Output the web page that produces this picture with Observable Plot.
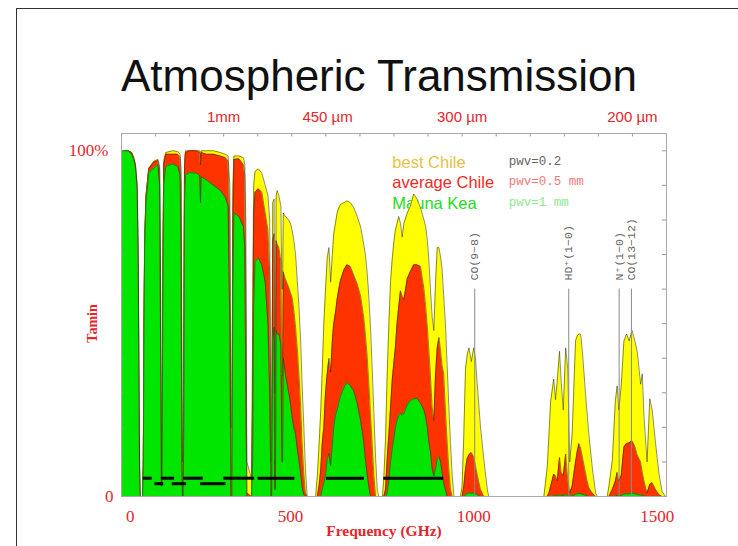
<!DOCTYPE html>
<html><head><meta charset="utf-8">
<script src="https://cdn.jsdelivr.net/npm/d3@7"></script>
<script src="https://cdn.jsdelivr.net/npm/@observablehq/plot@0.6"></script>
<style>
body{margin:0;background:#fff;}
#page{position:relative;width:738px;height:546px;overflow:hidden;background:#fff;}
#border{position:absolute;left:16px;top:8px;width:800px;height:600px;border:1.5px solid #333;box-sizing:border-box;}
#title{position:absolute;left:0;width:758px;top:54px;line-height:44px;text-align:center;font-family:"Liberation Sans",Arial,sans-serif;font-size:44px;color:#111;white-space:nowrap;}
#chart{position:absolute;left:0;top:100px;}
</style></head>
<body><div id="page"><div id="border"></div><div id="title">Atmospheric Transmission</div><div id="chart"></div></div>
<script>
// Frequency grid (GHz) and transmission
const freqGHz = [
  0,20,30,36,41,46,49,51,53,55,62,
  64,66,68,72,80,95,107,112,115,117,119,121,124,
  130,150,165,172,175,177,179,181,183,185,188,
  200,220,230,232,234,250,270,290,305,313,318,321,324,327,330,
  345,358,362,365,368,382,385,388,392,402,412,422,430,435,439,441,
  444,448,450,452,454,457,462,468,471,473,475,481,491,496,501,506,511,516,521,526,530,535,540,545,
  570,575,580,585,589,594,599,604,609,614,619,623,628,633,638,643,653,662,672,682,692,702,711,716,721,726,731,736,741,746,751,755,
  766,770,775,780,785,790,795,800,804,809,814,819,824,829,839,848,858,868,878,888,893,898,902,907,912,917,922,927,932,937,941,946,951,956,961,966,971,976,
  995,1000,1005,1010,1015,1020,1027,1034,1039,1044,1054,1064,1074,1078,
  1240,1250,1255,1260,1269,1274,1279,1286,1291,1297,1304,1310,1316,1323,1333,1338,1343,1348,1353,1362,1367,1372,1382,1392,1397,
  1426,1431,1441,1450,1455,1460,1467,1475,1483,1490,1499,1507,1514,1524,1529,1534,1543,1551,1558,1568,1578,1587,1597
];
const bestChile = [
  1,1,0.995,0.98,0.96,0.9,0.7,0.4,0.1,0,0,
  0.1,0.5,0.75,0.87,0.95,0.97,0.975,0.955,0.6,0.05,0.05,0.6,0.97,
  0.995,1,0.998,0.99,0.95,0.5,0.1,0.1,0.6,0.97,1,
  1,1,1,0.98,1,1,1,0.995,0.99,0.985,0.9,0.2,0.2,0.9,0.985,
  0.985,0.98,0.96,0.8,0.1,0.05,0.5,0.9,0.94,0.948,0.935,0.9,0.87,0.8,0.1,0.1,
  0.85,0.86,0.3,0.3,0.87,0.885,0.87,0.84,0.6,0.6,0.82,0.81,0.8,0.79,0.77,0.74,0.7,0.625,0.55,0.45,0.33,0.21,0.08,0,
  0,0.06,0.15,0.25,0.355,0.5,0.6,0.69,0.72,0.62,0.7,0.76,0.79,0.82,0.835,0.845,0.85,0.855,0.85,0.835,0.81,0.78,0.73,0.7,0.65,0.58,0.49,0.37,0.24,0.11,0.02,0,
  0,0.05,0.16,0.355,0.5,0.625,0.69,0.74,0.77,0.79,0.81,0.79,0.75,0.79,0.82,0.84,0.875,0.86,0.835,0.8,0.78,0.74,0.69,0.6,0.52,0.48,0.62,0.72,0.72,0.69,0.66,0.58,0.5,0.38,0.26,0.15,0.06,0,
  0,0.03,0.18,0.37,0.41,0.43,0.39,0.43,0.4,0.33,0.2,0.105,0.02,0,
  0,0.085,0.18,0.277,0.34,0.28,0.33,0.42,0.33,0.25,0.43,0.37,0.1,0.18,0.45,0.465,0.47,0.47,0.42,0.3,0.24,0.18,0.085,0.01,0,
  0,0.03,0.105,0.277,0.32,0.25,0.32,0.45,0.47,0.45,0.48,0.45,0.42,0.325,0.355,0.23,0.1,0.283,0.25,0.153,0.065,0.015,0
];
const averageChile = [
  1,1,0.995,0.98,0.96,0.9,0.7,0.4,0.1,0,0,
  0.1,0.5,0.74,0.87,0.948,0.967,0.972,0.945,0.55,0.05,0.05,0.6,0.96,
  0.99,0.99,0.99,0.98,0.9,0.3,0.02,0.02,0.4,0.95,0.995,
  1,1,0.995,0.96,0.995,0.99,0.99,0.985,0.98,0.97,0.8,0.05,0.05,0.8,0.975,
  0.977,0.96,0.93,0.6,0.01,0,0.3,0.82,0.88,0.89,0.88,0.82,0.77,0.65,0.02,0.02,
  0.74,0.76,0.1,0.1,0.74,0.73,0.72,0.68,0.35,0.35,0.65,0.63,0.605,0.59,0.575,0.54,0.49,0.43,0.355,0.26,0.16,0.07,0.01,0,
  0,0,0.03,0.08,0.15,0.2,0.3,0.355,0.4,0.36,0.45,0.5,0.53,0.57,0.6,0.625,0.655,0.67,0.665,0.64,0.615,0.58,0.52,0.47,0.41,0.33,0.24,0.15,0.06,0,0,0,
  0,0,0.02,0.11,0.18,0.26,0.34,0.39,0.43,0.5,0.55,0.595,0.58,0.57,0.63,0.65,0.67,0.67,0.665,0.6,0.55,0.49,0.43,0.35,0.26,0.22,0.355,0.43,0.46,0.42,0.38,0.355,0.25,0.16,0.08,0.02,0,0,
  0,0,0.03,0.08,0.11,0.12,0.127,0.115,0.09,0.065,0.02,0,0,0,
  0,0,0.01,0.03,0.065,0.06,0.045,0.113,0.07,0.06,0.123,0.05,0.01,0.03,0.1,0.13,0.153,0.14,0.115,0.07,0.045,0.025,0.01,0,0,
  0,0,0.02,0.045,0.07,0.045,0.06,0.143,0.153,0.155,0.161,0.145,0.12,0.1,0.07,0.045,0.01,0.035,0.04,0.02,0.005,0,0
];
const maunaKea = [
  1,1,0.99,0.975,0.955,0.89,0.69,0.38,0.08,0,0,
  0.08,0.45,0.72,0.85,0.937,0.95,0.96,0.9,0.4,0.03,0.03,0.5,0.9,
  0.955,0.962,0.955,0.93,0.7,0.1,0,0,0.2,0.85,0.93,
  0.937,0.935,0.928,0.85,0.925,0.915,0.9,0.885,0.865,0.84,0.5,0,0,0.6,0.82,
  0.81,0.78,0.72,0.3,0,0,0.1,0.55,0.68,0.69,0.67,0.62,0.5,0.3,0,0,
  0.45,0.49,0.02,0.02,0.48,0.47,0.47,0.44,0.1,0.1,0.4,0.355,0.3,0.27,0.23,0.2,0.18,0.14,0.105,0.065,0.03,0.005,0,0,
  0,0,0,0,0.02,0.04,0.06,0.11,0.125,0.09,0.15,0.2,0.235,0.25,0.27,0.29,0.315,0.33,0.32,0.305,0.27,0.22,0.16,0.11,0.065,0.03,0,0,0,0,0,0,
  0,0,0,0.01,0.05,0.1,0.14,0.17,0.2,0.22,0.235,0.24,0.235,0.24,0.265,0.277,0.283,0.283,0.27,0.25,0.23,0.2,0.16,0.13,0.08,0.06,0.08,0.11,0.115,0.1,0.07,0.04,0.02,0,0,0,0,0,
  0,0,0,0.005,0.008,0.01,0.01,0.01,0.008,0.005,0,0,0,0,
  0,0,0,0,0.002,0.002,0.002,0.004,0.003,0.003,0.005,0.004,0,0.002,0.006,0.008,0.009,0.008,0.006,0.004,0.002,0,0,0,0,
  0,0,0,0.002,0.003,0.002,0.003,0.007,0.008,0.008,0.01,0.008,0.006,0.004,0.003,0.002,0,0,0,0,0,0,0
];
// Molecular lines
const lineNames = ["CO(9\u22128)", "HD\u207A(1\u22120)", "N\u207A(1\u22120)", "CO(13\u221212)"];
const lineGHz = [1037, 1313, 1461, 1497];
// Receiver bands (GHz), two rows
const bandsUpper = [[64,90],[117,156],[183,240],[300,391],[401,509],[602,713],[770,946]];
const bandsLower = [[98,124],[149,191],[232,307]];
// Axis labels
const topLabels = ["1mm", "450 \u00B5m", "300 \u00B5m", "200 \u00B5m"];
const topLabelGHz = [300, 605, 1000, 1500];
const bottomLabels = ["0", "500", "1000", "1500"];
const bottomLabelGHz = [26, 496, 1034, 1573];
const legendNames = ["best Chile", "average Chile", "Mauna Kea"];
const pwvNames = ["pwv=0.2", "pwv=0.5 mm", "pwv=1 mm"];

if (bestChile.length !== freqGHz.length || averageChile.length !== freqGHz.length || maunaKea.length !== freqGHz.length)
  throw new Error(`length mismatch ${freqGHz.length} ${bestChile.length} ${averageChile.length} ${maunaKea.length}`);

const rows = freqGHz.map((f, i) => ({f, best: bestChile[i], avg: averageChile[i], mk: maunaKea[i]}));
const topTicks = d3.range(100, 1600, 100);
const yTicks = d3.range(1, 11).map(d => d / 10);

const legendColors = ["#e8c244", "#f02a22", "#22dd22"];
const pwvColors = ["#666666", "#f07a7a", "#8ee88e"];
const RED = "#e3262b";
const serif = "Liberation Serif, Times New Roman, serif";
const sans = "Liberation Sans, Arial, sans-serif";
const mono = "Liberation Mono, Courier New, monospace";
const outline = {stroke: "#2a2a10", strokeWidth: 0.9, strokeOpacity: 0.6};

const chart = Plot.plot({
  width: 738, height: 446,
  marginTop: 33, marginBottom: 50, marginLeft: 121, marginRight: 72,
  style: {background: "transparent", overflow: "visible"},
  x: {domain: [0, 1600], axis: null},
  y: {domain: [0, 1.05], axis: null},
  marks: [
    // legend (under the data, as in the original)
    Plot.text(legendNames, {x: 795, y: (d, i) => 0.951 - i * 0.0595, text: d => d, fill: (d, i) => legendColors[i], textAnchor: "start", lineAnchor: "bottom", fontFamily: sans, fontSize: 16.5}),
    Plot.text(pwvNames, {x: 1137, y: (d, i) => 0.96 - i * 0.06, text: d => d, fill: (d, i) => pwvColors[i], textAnchor: "start", lineAnchor: "bottom", fontFamily: mono, fontSize: 12.5}),
    // spectra
    Plot.areaY(rows, {x: "f", y: "best", fill: "#ffff00"}),
    Plot.lineY(rows, {x: "f", y: "best", ...outline}),
    Plot.areaY(rows, {x: "f", y: "avg", fill: "#ff3300"}),
    Plot.lineY(rows, {x: "f", y: "avg", ...outline}),
    Plot.areaY(rows, {x: "f", y: "mk", fill: "#00e600"}),
    Plot.lineY(rows, {x: "f", y: "mk", ...outline}),
    // molecular lines
    Plot.ruleX(lineGHz, {x: d => d, y1: 0, y2: 0.6, stroke: "#8a8a8a", strokeWidth: 1}),
    Plot.text(lineNames, {x: (d, i) => lineGHz[i], y: 0.625, text: d => d, rotate: -90, textAnchor: "start", lineAnchor: "middle", fill: "#666", fontFamily: mono, fontSize: 11.5}),
    // receiver bands
    Plot.ruleY(bandsUpper, {y: 0.053, x1: d => d[0], x2: d => d[1], stroke: "#000", strokeWidth: 3}),
    Plot.ruleY(bandsLower, {y: 0.037, x1: d => d[0], x2: d => d[1], stroke: "#000", strokeWidth: 3}),
    // ticks
    Plot.ruleX(topTicks, {x: d => d, y1: 1.05, y2: 1.04, stroke: "#999"}),
    Plot.ruleY(yTicks, {y: d => d, x1: 1588, x2: 1600, stroke: "#999"}),
    Plot.ruleY(yTicks, {y: d => d, x1: 0, x2: 10, stroke: "#999", strokeOpacity: 0.6}),
    Plot.frame({stroke: "#a8a8a8"}),
    // axis labels
    Plot.text(topLabels, {x: (d, i) => topLabelGHz[i], text: d => d, frameAnchor: "top", dy: -12, lineAnchor: "bottom", fill: RED, fontFamily: sans, fontSize: 15}),
    Plot.text(bottomLabels, {x: (d, i) => bottomLabelGHz[i], text: d => d, frameAnchor: "bottom", dy: 25, lineAnchor: "bottom", fill: RED, fontFamily: serif, fontSize: 17}),
    Plot.text(["100%"], {y: 1, text: d => d, frameAnchor: "left", dx: -13, textAnchor: "end", fill: RED, fontFamily: serif, fontSize: 17}),
    Plot.text(["0"], {y: 0, text: d => d, frameAnchor: "left", dx: -8, textAnchor: "end", fill: RED, fontFamily: serif, fontSize: 17}),
    Plot.text(["Tamin"], {y: 0.445, text: d => d, frameAnchor: "left", dx: -29, rotate: -90, fill: RED, fontFamily: serif, fontWeight: "bold", fontSize: 14}),
    Plot.text(["Frequency (GHz)"], {text: d => d, frameAnchor: "bottom", dx: -10, dy: 39, lineAnchor: "bottom", fill: RED, fontFamily: serif, fontWeight: "bold", fontSize: 15.5})
  ]
});
document.getElementById("chart").appendChild(chart);
</script>
</body></html>
